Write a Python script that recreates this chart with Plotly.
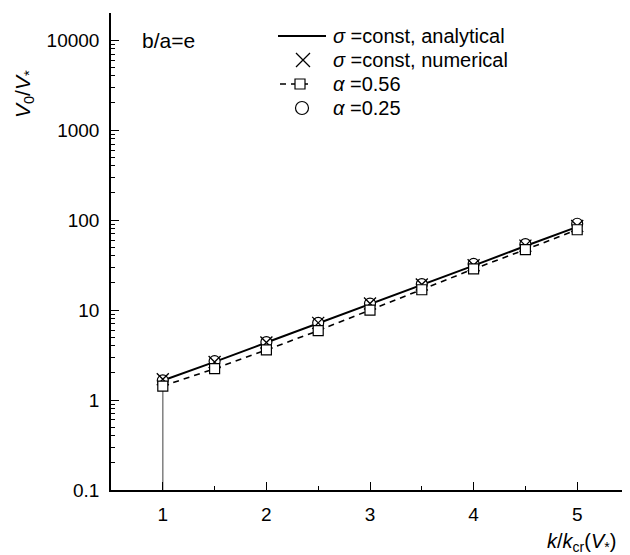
import plotly.graph_objects as go

# Data
k_ratio = [1.0, 1.5, 2.0, 2.5, 3.0, 3.5, 4.0, 4.5, 5.0]
v_analytical = [1.65, 2.65, 4.35, 7.1, 11.6, 19.0, 31.2, 51.5, 84.0]
v_numerical = [1.7, 2.65, 4.35, 7.2, 11.8, 19.2, 31.5, 52.0, 86.0]
v_alpha056 = [1.43, 2.23, 3.6, 5.9, 10.0, 16.8, 28.6, 46.9, 78.0]
v_alpha025 = [1.65, 2.7, 4.4, 7.2, 11.8, 19.4, 32.5, 54.0, 91.0]
drop_x = [1.0, 1.0]
drop_y = [0.1, 1.43]

y_tickvals = [0.1, 1, 10, 100, 1000, 10000]
y_ticktext = ["0.1", "1", "10", "100", "1000", "10000"]
x_tickvals = [1, 2, 3, 4, 5]
legend_labels = ["<i>σ</i> =const, analytical", "<i>σ</i> =const, numerical",
                 "<i>α</i> =0.56", "<i>α</i> =0.25"]

FONT = "Liberation Sans, Arial, sans-serif"

# ---- layout constants (window pixels) ----
PL, PR, PT, PB = 111, 629, 13, 490          # plot area in window pixels
BODY = 8                                    # default page body margin
LEG_ROW_Y = [36, 60, 84, 108]               # legend row centres
LEG_TEXT_X = 331
LEG_SYM_X = 303

sq_marker = dict(symbol="square", size=10, color="white",
                 line=dict(color="black", width=1.2))
ci_marker = dict(symbol="circle", size=11, color="white",
                 line=dict(color="black", width=1.2))
x_marker = dict(symbol="x-thin-open", size=12, color="black",
                line=dict(color="black", width=1.3))
dash_line = dict(color="black", width=1.6, dash="6px,5px")

fig = go.Figure()

fig.add_trace(go.Scatter(x=drop_x, y=drop_y, mode="lines",
                         line=dict(color="#7f7f7f", width=1.5), hoverinfo="skip"))
fig.add_trace(go.Scatter(x=k_ratio, y=v_analytical, mode="lines",
                         line=dict(color="black", width=2)))
fig.add_trace(go.Scatter(x=k_ratio, y=v_alpha025, mode="markers", marker=ci_marker))
fig.add_trace(go.Scatter(x=k_ratio, y=v_numerical, mode="markers", marker=x_marker))
fig.add_trace(go.Scatter(x=k_ratio, y=v_alpha056, mode="lines+markers",
                         line=dash_line, marker=sq_marker))

# ---- hand-drawn legend on an invisible overlay axis in pixel units ----
fig.add_trace(go.Scatter(x=[278, 326], y=[LEG_ROW_Y[0]] * 2, mode="lines",
                         line=dict(color="black", width=2),
                         xaxis="x2", yaxis="y2", hoverinfo="skip"))
fig.add_trace(go.Scatter(x=[LEG_SYM_X], y=[LEG_ROW_Y[1]], mode="markers",
                         marker=dict(x_marker, size=14),
                         xaxis="x2", yaxis="y2", hoverinfo="skip"))
fig.add_trace(go.Scatter(x=[280, 311], y=[LEG_ROW_Y[2]] * 2, mode="lines",
                         line=dash_line, xaxis="x2", yaxis="y2", hoverinfo="skip"))
fig.add_trace(go.Scatter(x=[LEG_SYM_X - 3], y=[LEG_ROW_Y[2]], mode="markers",
                         marker=sq_marker, xaxis="x2", yaxis="y2", hoverinfo="skip"))
fig.add_trace(go.Scatter(x=[LEG_SYM_X - 1], y=[LEG_ROW_Y[3]], mode="markers",
                         marker=dict(ci_marker, size=13),
                         xaxis="x2", yaxis="y2", hoverinfo="skip"))

annotations = [
    dict(text=lab, xref="x2", yref="y2", x=LEG_TEXT_X, y=yy, xanchor="left",
         yanchor="middle", showarrow=False, font=dict(size=20))
    for lab, yy in zip(legend_labels, LEG_ROW_Y)
]
annotations += [
    dict(text="b/a=e", xref="paper", yref="paper", x=0.056, y=0.943,
         xanchor="left", yanchor="middle", showarrow=False, font=dict(size=21)),
    dict(text="<i>V</i><sub>0</sub>/<i>V</i><sub>*</sub>", xref="paper",
         yref="paper", x=-0.168, y=0.83, xanchor="center", yanchor="middle",
         textangle=-90, showarrow=False, font=dict(size=21)),
    dict(text="<i>k</i>/<i>k</i><sub>cr</sub>(<i>V</i><sub>*</sub>)",
         xref="paper", yref="paper", x=0.979, y=-0.111, xanchor="right",
         yanchor="middle", showarrow=False, font=dict(size=20)),
]

W, H = 630 - BODY, 555 - BODY
fig.update_layout(
    width=W, height=H,
    margin=dict(l=PL - BODY, r=BODY + W - PR, t=PT - BODY, b=BODY + H - PB),
    paper_bgcolor="white", plot_bgcolor="white",
    font=dict(family=FONT, size=19, color="black"),
    showlegend=False,
    xaxis=dict(range=[0.5, 5.5], tickvals=x_tickvals, showline=True,
               linecolor="black", linewidth=1.5, ticks="inside", ticklen=8,
               tickwidth=1.2, tickcolor="black", showgrid=False, zeroline=False,
               mirror=False, tickfont=dict(size=19), ticklabelstandoff=6,
               minor=dict(ticks="inside", ticklen=4, dtick=0.5, tickcolor="black",
                          showgrid=False)),
    yaxis=dict(type="log", range=[-1, 4.301], tickvals=y_tickvals,
               ticktext=y_ticktext, showline=True, linecolor="black",
               linewidth=1.5, ticks="inside", ticklen=8, tickwidth=1.2,
               tickcolor="black", showgrid=False, zeroline=False,
               tickfont=dict(size=19), ticklabelstandoff=6,
               minor=dict(ticks="inside", ticklen=4, dtick="D1",
                          tickcolor="black", showgrid=False)),
    xaxis2=dict(overlaying="x", range=[PL, PR], visible=False, fixedrange=True),
    yaxis2=dict(overlaying="y", range=[PB, PT], visible=False, fixedrange=True),
    annotations=annotations,
)

fig.write_html("out.html")
